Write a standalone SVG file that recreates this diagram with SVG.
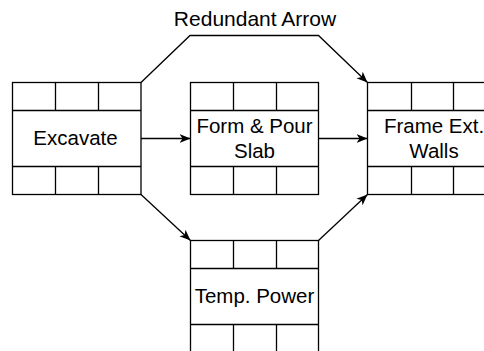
<svg xmlns="http://www.w3.org/2000/svg" width="484" height="351" viewBox="0 0 484 351">
<defs>
<style>
.box{fill:#fff;stroke:#000;stroke-width:1.3}
.ln{stroke:#000;stroke-width:1.3;fill:none}
.lbl{font-family:"Liberation Sans",Arial,Helvetica,sans-serif;font-size:20.5px;fill:#000;text-anchor:middle}
.edge{stroke:#000;stroke-width:1.3;fill:none;marker-end:url(#arr)}
</style>
<marker id="arr" markerUnits="userSpaceOnUse" markerWidth="12" markerHeight="10" refX="11" refY="5" orient="auto" viewBox="0 0 12 10">
<path d="M0,0.5 L11,5 L0,9.5 L3,5 Z" fill="#000"/>
</marker>
</defs>
<rect width="484" height="351" fill="#fff"/>
<g id="excavate">
<rect class="box" x="12.5" y="82.5" width="128.5" height="112"/>
<path class="ln" d="M12.5,110.5H141M12.5,166.5H141M55.5,82.5V110.5M98.5,82.5V110.5M55.5,166.5V194.5M98.5,166.5V194.5"/>
<text class="lbl" x="75.5" y="145">Excavate</text>
</g>
<g id="form-pour-slab">
<rect class="box" x="190.5" y="82.5" width="128" height="112"/>
<path class="ln" d="M190.5,110.5H318.5M190.5,166.5H318.5M233.5,82.5V110.5M276.5,82.5V110.5M233.5,166.5V194.5M276.5,166.5V194.5"/>
<text class="lbl" x="254.5" y="133">Form &amp; Pour</text>
<text class="lbl" x="254.5" y="157.5">Slab</text>
</g>
<g id="frame-ext-walls">
<rect class="box" x="367.5" y="82.5" width="128" height="112"/>
<path class="ln" d="M367.5,110.5H495.5M367.5,166.5H495.5M411.5,82.5V110.5M453.5,82.5V110.5M411.5,166.5V194.5M453.5,166.5V194.5"/>
<text class="lbl" x="434" y="133">Frame Ext.</text>
<text class="lbl" x="434" y="157.5">Walls</text>
</g>
<g id="temp-power">
<rect class="box" x="190.5" y="240.5" width="128" height="112"/>
<path class="ln" d="M190.5,268.5H318.5M190.5,324.5H318.5M233.5,240.5V268.5M276.5,240.5V268.5M233.5,324.5V352.5M276.5,324.5V352.5"/>
<text class="lbl" x="254.5" y="303">Temp. Power</text>
</g>
<g id="connectors">
<path class="edge" d="M141,138.5H190.5"/>
<path class="edge" d="M318.5,138.5H367.5"/>
<path class="edge" d="M141,82.5L190,35.5H318.5L367.5,82.5"/>
<path class="edge" d="M141,194.5L190.5,240.5"/>
<path class="edge" d="M318.5,240.5L367.5,194.5"/>
<text class="lbl" x="255" y="26" style="font-size:21px">Redundant Arrow</text>
</g>
</svg>
